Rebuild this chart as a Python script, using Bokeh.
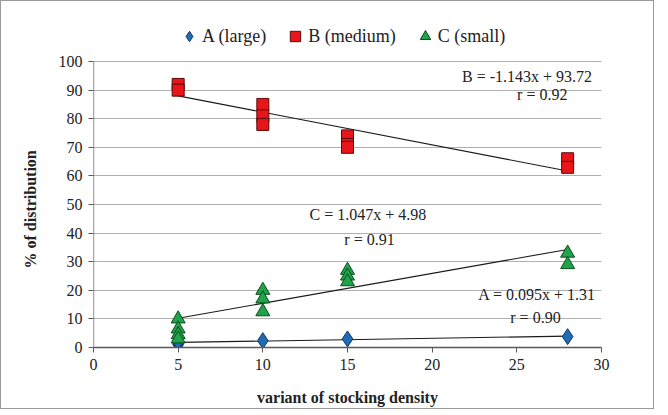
from bokeh.plotting import figure
from bokeh.models import Legend, LegendItem, Label, FixedTicker, Range1d, Title
from bokeh.embed import file_html
from bokeh.resources import INLINE

# data
A_x = [5, 5, 5, 10, 15, 28]
A_y = [1.0, 1.5, 2.0, 2.4, 3.0, 3.8]
B_x = [5, 5, 10, 10, 10, 15, 15, 15, 28, 28]
B_y = [92, 90, 85, 81, 78, 74, 71, 70, 66, 63]
C_x = [5, 5, 5, 5, 10, 10, 10, 15, 15, 15, 28, 28]
C_y = [10, 6.5, 4.5, 3, 20, 17, 12.5, 27, 25, 23, 33, 29]

# regression coefficients (slope, intercept) from the chart labels
A_fit = (0.095, 1.31)
B_fit = (-1.143, 93.72)
C_fit = (1.047, 4.98)
fit_x = [5, 28]

labels_A = ["A = 0.095x + 1.31", "r = 0.90"]
labels_B = ["B = -1.143x + 93.72", "r = 0.92"]
labels_C = ["C = 1.047x + 4.98", "r = 0.91"]
legend_names = ["A (large)", "B (medium)", "C (small)"]

x_ticks = [0, 5, 10, 15, 20, 25, 30]
y_ticks = [0, 10, 20, 30, 40, 50, 60, 70, 80, 90, 100]
y_axis_max = 100
y_view_max = 114  # extra headroom above the axis holds the legend

FONT = "Liberation Serif"

p = figure(frame_width=508, frame_height=326, output_backend="svg",
           toolbar_location=None, x_range=Range1d(0, 30),
           y_range=Range1d(0, y_view_max),
           min_border_left=92, min_border_top=20, min_border_right=52,
           min_border_bottom=53)
p.background_fill_color = "white"
p.border_fill_color = "white"
p.outline_line_color = None

p.xgrid.grid_line_color = None
p.ygrid.grid_line_color = "#b0b0b0"
p.ygrid.grid_line_width = 1

for ax in (p.xaxis[0], p.yaxis[0]):
    ax.axis_line_color = "#595959"
    ax.axis_line_width = 1.3
    ax.major_tick_line_color = "#595959"
    ax.major_tick_in = 0
    ax.major_tick_out = 5
    ax.minor_tick_line_color = None
    ax.major_label_text_font = FONT
    ax.major_label_text_font_size = "16px"
    ax.major_label_text_color = "#222222"
    ax.axis_label_text_font = FONT
    ax.axis_label_text_font_size = "16px"
    ax.axis_label_text_font_style = "bold"
    ax.axis_label_text_color = "#222222"

p.yaxis.axis_line_color = None
p.xaxis.ticker = FixedTicker(ticks=x_ticks)
p.yaxis.ticker = FixedTicker(ticks=y_ticks)
p.xaxis.axis_label = "variant of stocking density"
p.xaxis.major_label_standoff = 6
p.xaxis.axis_label_standoff = 16
p.yaxis.major_label_standoff = 6

# y axis line drawn only over the 0..100 scale
p.segment(x0=[0], y0=[0], x1=[0], y1=[y_axis_max], line_color="#595959",
          line_width=1.3)

p.add_layout(Title(text="% of distribution", align="left", offset=79,
                   text_font=FONT, text_font_size="16px",
                   text_font_style="bold", text_color="#222222",
                   standoff=34), "left")

# trend lines
for (m, b) in (A_fit, B_fit, C_fit):
    p.line(fit_x, [m * x + b for x in fit_x], line_color="#1a1a1a", line_width=1.1)

rA = p.scatter(A_x, A_y, marker="diamond", size=16,
               fill_color="#1f6bb5", line_color="#17375e", line_width=1)
rB = p.scatter(B_x, B_y, marker="square", size=12, fill_color="#e8161b",
               line_color="#5a0a0a", line_width=1)
rC = p.scatter(C_x, C_y, marker="triangle", size=14, fill_color="#1fa44a",
               line_color="#0d4a20", line_width=1)

legend = Legend(items=[LegendItem(label=legend_names[0], renderers=[rA]),
                       LegendItem(label=legend_names[1], renderers=[rB]),
                       LegendItem(label=legend_names[2], renderers=[rC])],
                orientation="horizontal", location=(83, 298),
                label_text_font=FONT, label_text_font_size="18px",
                label_text_color="#222222", border_line_color=None,
                background_fill_alpha=0, glyph_width=26, glyph_height=26,
                label_standoff=-6, spacing=16, padding=2, margin=0)
p.add_layout(legend, "center")

def add_label(t, x, y):
    p.add_layout(Label(x=x, y=y, text=t, text_font=FONT,
                       text_font_size="16px", text_color="#222222",
                       text_align="center", text_baseline="middle"))

add_label(labels_B[0], 25.6, 94.6)
add_label(labels_B[1], 26.5, 88.3)
add_label(labels_C[0], 16.2, 46.6)
add_label(labels_C[1], 16.3, 37.6)
add_label(labels_A[0], 26.2, 18.6)
add_label(labels_A[1], 26.1, 10.6)

p.styles = {"border": "1px solid #9a9a9a", "box-sizing": "border-box"}

open("out.html", "w").write(file_html(p, INLINE))
